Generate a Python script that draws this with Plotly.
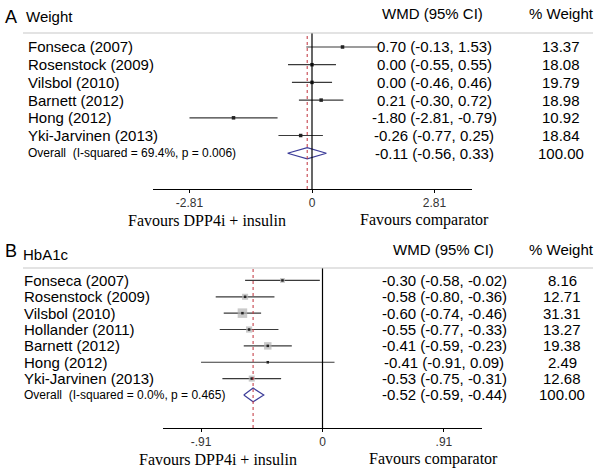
import math
import plotly.graph_objects as go

# ---------------- data ----------------
studies_a = ["Fonseca (2007)", "Rosenstock (2009)", "Vilsbol (2010)", "Barnett (2012)",
             "Hong (2012)", "Yki-Jarvinen (2013)"]
wmd_a = [0.70, 0.00, 0.00, 0.21, -1.80, -0.26]
lo_a = [-0.13, -0.55, -0.46, -0.30, -2.81, -0.77]
hi_a = [1.53, 0.55, 0.46, 0.72, -0.79, 0.25]
weight_a = [13.37, 18.08, 19.79, 18.98, 10.92, 18.84]
overall_a = [-0.11, -0.56, 0.33]
overall_weight_a = 100.00
overall_label_a = "Overall\u00a0 (I-squared = 69.4%, p = 0.006)"
ticks_a = [-2.81, 0, 2.81]
ticklabels_a = ["-2.81", "0", "2.81"]

studies_b = ["Fonseca (2007)", "Rosenstock (2009)", "Vilsbol (2010)", "Hollander (2011)",
             "Barnett (2012)", "Hong (2012)", "Yki-Jarvinen (2013)"]
wmd_b = [-0.30, -0.58, -0.60, -0.55, -0.41, -0.41, -0.53]
lo_b = [-0.58, -0.80, -0.74, -0.77, -0.59, -0.91, -0.75]
hi_b = [-0.02, -0.36, -0.46, -0.33, -0.23, 0.09, -0.31]
weight_b = [8.16, 12.71, 31.31, 13.27, 19.38, 2.49, 12.68]
overall_b = [-0.52, -0.59, -0.44]
overall_weight_b = 100.00
overall_label_b = "Overall\u00a0 (I-squared = 0.0%, p = 0.465)"
ticks_b = [-0.91, 0, 0.91]
ticklabels_b = ["-.91", "0", ".91"]

# ---------------- styling ----------------
W, H = 600, 471
SANS = "Liberation Sans, Arial, sans-serif"
SERIF = "Liberation Serif, Times New Roman, serif"
CI_COLOR = "#3a3a3a"
DIAMOND_COLOR = "#3d3d99"
RED = "#c0303a"


def py(p):
    return 1 - p / H


def px(p):
    return p / W


fig = go.Figure()
annotations = []
shapes = []


def panel(xa, ya, studies, est, lo, hi, wts, overall, overall_w, overall_label, box_scale,
          dot_size, diamond_h, label_x, wmd_x, wt_x, rule_y, show_boxes):
    n = len(studies)
    rows = list(range(n))
    xs, ys = [], []
    for i in rows:
        xs += [lo[i], hi[i], None]
        ys += [i, i, None]
    fig.add_trace(go.Scatter(x=xs, y=ys, mode="lines", line=dict(color=CI_COLOR, width=1.2),
                             xaxis=xa, yaxis=ya, hoverinfo="skip"))
    if show_boxes:
        fig.add_trace(go.Scatter(x=est, y=rows, mode="markers",
                                 marker=dict(symbol="square", color="#b4b4b4",
                                             size=[box_scale * math.sqrt(w) for w in wts],
                                             line=dict(width=0)),
                                 xaxis=xa, yaxis=ya, hoverinfo="skip"))
    fig.add_trace(go.Scatter(x=est, y=rows, mode="markers",
                             marker=dict(symbol="square", color="#222222", size=dot_size,
                                         line=dict(width=0)),
                             xaxis=xa, yaxis=ya, hoverinfo="skip"))
    e, l, h = overall
    fig.add_trace(go.Scatter(x=[l, e, h, e, l], y=[n, n - diamond_h, n, n + diamond_h, n],
                             mode="lines", line=dict(color=DIAMOND_COLOR, width=1.2),
                             xaxis=xa, yaxis=ya, hoverinfo="skip"))
    yref = "y" if ya == "y" else "y2"
    xref_axis = "x" if xa == "x" else "x2"
    shapes.append(dict(type="line", xref=xref_axis, yref=yref + " domain", x0=0, x1=0, y0=0, y1=1,
                       line=dict(color="black", width=1.2)))
    shapes.append(dict(type="line", xref=xref_axis, yref=yref + " domain", x0=e, x1=e, y0=0, y1=1,
                       line=dict(color=RED, width=1, dash="dot")))
    shapes.append(dict(type="line", xref="paper", yref="paper", x0=px(23), x1=px(593),
                       y0=py(rule_y), y1=py(rule_y), line=dict(color="#c8c8c8", width=1.2)))
    for i in rows:
        annotations.append(dict(x=px(label_x), y=i, xref="paper", yref=yref, text=studies[i],
                                showarrow=False, xanchor="left", yanchor="middle",
                                font=dict(family=SANS, size=15, color="black")))
        annotations.append(dict(x=px(wmd_x), y=i, xref="paper", yref=yref,
                                text=f"{est[i]:.2f} ({lo[i]:.2f}, {hi[i]:.2f})",
                                showarrow=False, xanchor="center", yanchor="middle",
                                font=dict(family=SANS, size=15, color="black")))
        annotations.append(dict(x=px(wt_x), y=i, xref="paper", yref=yref, text=f"{wts[i]:.2f}",
                                showarrow=False, xanchor="center", yanchor="middle",
                                font=dict(family=SANS, size=15, color="black")))
    annotations.append(dict(x=px(label_x), y=n, xref="paper", yref=yref, text=overall_label,
                            showarrow=False, xanchor="left", yanchor="middle",
                            font=dict(family=SANS, size=12, color="black")))
    annotations.append(dict(x=px(wmd_x), y=n, xref="paper", yref=yref,
                            text=f"{e:.2f} ({l:.2f}, {h:.2f})",
                            showarrow=False, xanchor="center", yanchor="middle",
                            font=dict(family=SANS, size=15, color="black")))
    annotations.append(dict(x=px(wt_x), y=n, xref="paper", yref=yref, text=f"{overall_w:.2f}",
                            showarrow=False, xanchor="center", yanchor="middle",
                            font=dict(family=SANS, size=15, color="black")))


panel("x", "y", studies_a, wmd_a, lo_a, hi_a, weight_a, overall_a, overall_weight_a,
      overall_label_a, box_scale=0.5, dot_size=3.5, diamond_h=0.32, label_x=26, wmd_x=434,
      wt_x=561, rule_y=33, show_boxes=False)
panel("x2", "y2", studies_b, wmd_b, lo_b, hi_b, weight_b, overall_b, overall_weight_b,
      overall_label_b, box_scale=1.7, dot_size=2.5, diamond_h=0.42, label_x=22, wmd_x=444,
      wt_x=562, rule_y=268, show_boxes=True)


def text(x, y, s, size, family=SANS, anchor="left", color="black"):
    annotations.append(dict(x=px(x), y=py(y), xref="paper", yref="paper", text=s, showarrow=False,
                            xanchor=anchor, yanchor="middle",
                            font=dict(family=family, size=size, color=color)))


text(3, 17, "A", 18)
text(24, 17, "Weight", 15)
text(432, 14, "WMD (95% CI)", 15, anchor="center")
text(561, 14, "% Weight", 15, anchor="center")
text(3, 251, "B", 18)
text(21, 254, "HbA1c", 15)
text(443, 249, "WMD (95% CI)", 15, anchor="center")
text(561, 249, "% Weight", 15, anchor="center")

text(207, 220, "Favours DPP4i + insulin", 16, family=SERIF, anchor="center")
text(424, 220, "Favours comparator", 16, family=SERIF, anchor="center")
text(218, 459, "Favours DPP4i + insulin", 16, family=SERIF, anchor="center")
text(433, 459, "Favours comparator", 16, family=SERIF, anchor="center")

xaxis_common = dict(showgrid=False, zeroline=False, showline=True, linecolor="black", linewidth=1,
                    ticks="outside", ticklen=3, tickcolor="black", tickwidth=1,
                    tickfont=dict(family=SANS, size=12, color="#333333"), fixedrange=True)
yaxis_common = dict(showgrid=False, zeroline=False, showline=False, showticklabels=False,
                    ticks="", fixedrange=True)

fig.update_layout(
    width=W, height=H,
    margin=dict(l=0, r=0, t=0, b=0),
    paper_bgcolor="white", plot_bgcolor="rgba(0,0,0,0)",
    showlegend=False,
    xaxis=dict(domain=[px(153), px(472)], range=[-3.647, 3.67], tickvals=ticks_a,
               ticktext=ticklabels_a, anchor="y", **xaxis_common),
    yaxis=dict(domain=[py(189), py(33)], range=[8.02, -0.79], anchor="x", **yaxis_common),
    xaxis2=dict(domain=[px(163), px(482)], range=[-1.195, 1.195], tickvals=ticks_b,
                ticktext=ticklabels_b, anchor="y2", **xaxis_common),
    yaxis2=dict(domain=[py(428), py(268)], range=[9.02, -0.76], anchor="x2", **yaxis_common),
    annotations=annotations,
    shapes=shapes,
)

fig.write_html("out.html", config={"displayModeBar": False},
               post_script="document.body.style.margin='0';document.body.style.overflow='hidden';")
